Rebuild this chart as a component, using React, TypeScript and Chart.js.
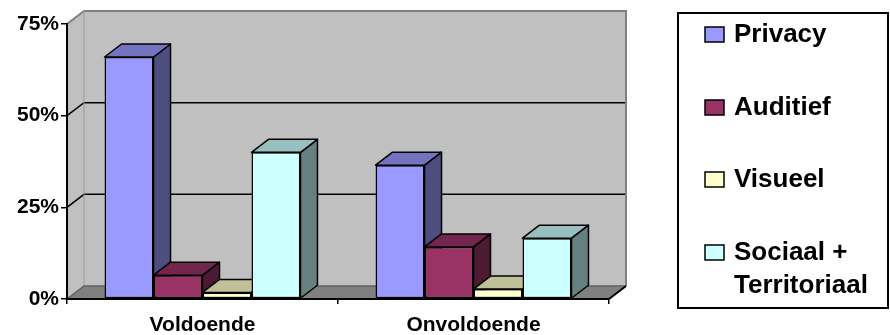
import React, { useEffect, useRef } from "react";
import { Chart, registerables } from "chart.js";

Chart.register(...registerables);

// Survey results per category
const categories = ["Voldoende", "Onvoldoende"];
const seriesNames = ["Privacy", "Auditief", "Visueel", "Sociaal + Territoriaal"];
const privacy = [66, 36.5];
const auditief = [6.5, 14.2];
const visueel = [1.8, 2.7];
const sociaal = [40, 16.6];
const yTicks = [0, 25, 50, 75];
const legendLines = [["Privacy"], ["Auditief"], ["Visueel"], ["Sociaal +", "Territoriaal"]];

// Face colours: front, top, side
const frontColors = ["#9999FF", "#993366", "#FFFFCC", "#CCFFFF"];
const topColors = ["#7373BF", "#73264D", "#C0C099", "#99C0C0"];
const sideColors = ["#4D4D80", "#4D1A33", "#808066", "#668080"];

const FONT = "'Liberation Sans', Arial, sans-serif";
const DX = 17;
const DY = 13;

const wallsPlugin = {
  id: "walls3d",
  beforeDraw(chart: any) {
    const { ctx, chartArea: a, scales } = chart;
    const ys = scales.y;
    ctx.save();
    // left side wall
    ctx.fillStyle = "#C0C0C0";
    ctx.beginPath();
    ctx.moveTo(a.left, a.top);
    ctx.lineTo(a.left + DX, a.top - DY);
    ctx.lineTo(a.left + DX, a.bottom - DY);
    ctx.lineTo(a.left, a.bottom);
    ctx.closePath();
    ctx.fill();
    // back wall
    ctx.fillRect(a.left + DX, a.top - DY, a.right - a.left, a.bottom - a.top);
    // floor
    ctx.fillStyle = "#808080";
    ctx.beginPath();
    ctx.moveTo(a.left, a.bottom);
    ctx.lineTo(a.right, a.bottom);
    ctx.lineTo(a.right + DX, a.bottom - DY);
    ctx.lineTo(a.left + DX, a.bottom - DY);
    ctx.closePath();
    ctx.fill();

    // gridlines on the walls
    ctx.strokeStyle = "#000000";
    ctx.lineWidth = 1.5;
    for (const t of ys.ticks) {
      if (t.value <= ys.min || t.value >= ys.max) continue;
      const py = ys.getPixelForValue(t.value);
      ctx.beginPath();
      ctx.moveTo(a.left, py);
      ctx.lineTo(a.left + DX, py - DY);
      ctx.lineTo(a.right + DX, py - DY);
      ctx.stroke();
    }

    // wall outlines
    ctx.strokeStyle = "#808080";
    ctx.lineWidth = 2;
    ctx.beginPath();
    ctx.moveTo(a.left, a.top);
    ctx.lineTo(a.left + DX, a.top - DY);
    ctx.lineTo(a.right + DX, a.top - DY);
    ctx.lineTo(a.right + DX, a.bottom - DY);
    ctx.stroke();
    ctx.lineWidth = 1;
    ctx.strokeStyle = "#9A9A9A";
    ctx.beginPath();
    ctx.moveTo(a.left + DX, a.top - DY);
    ctx.lineTo(a.left + DX, a.bottom - DY);
    ctx.stroke();
    ctx.strokeStyle = "#606060";
    ctx.lineWidth = 1.5;
    ctx.beginPath();
    ctx.moveTo(a.left, a.bottom);
    ctx.lineTo(a.left + DX, a.bottom - DY);
    ctx.lineTo(a.right + DX, a.bottom - DY);
    ctx.stroke();
    ctx.strokeStyle = "#000000";
    ctx.lineWidth = 2;
    ctx.beginPath();
    ctx.moveTo(a.right, a.bottom);
    ctx.lineTo(a.right + DX, a.bottom - DY);
    ctx.stroke();
    ctx.restore();
  },
  beforeDatasetsDraw(chart: any) {
    const { ctx } = chart;
    const bars: any[] = [];
    chart.data.datasets.forEach((ds: any, di: number) => {
      const meta = chart.getDatasetMeta(di);
      meta.data.forEach((el: any) => {
        const p = el.getProps(["x", "y", "base", "width"], true);
        bars.push({ ...p, di });
      });
    });
    bars.sort((m, n) => m.x - n.x);
    ctx.save();
    ctx.strokeStyle = "#000000";
    ctx.lineWidth = 1.5;
    ctx.lineJoin = "round";
    for (const b of bars) {
      const left = b.x - b.width / 2;
      const right = b.x + b.width / 2;
      // side face
      ctx.fillStyle = sideColors[b.di];
      ctx.beginPath();
      ctx.moveTo(right, b.y);
      ctx.lineTo(right + DX, b.y - DY);
      ctx.lineTo(right + DX, b.base - DY);
      ctx.lineTo(right, b.base);
      ctx.closePath();
      ctx.fill();
      ctx.stroke();
      // top face
      ctx.fillStyle = topColors[b.di];
      ctx.beginPath();
      ctx.moveTo(left, b.y);
      ctx.lineTo(left + DX, b.y - DY);
      ctx.lineTo(right + DX, b.y - DY);
      ctx.lineTo(right, b.y);
      ctx.closePath();
      ctx.fill();
      ctx.stroke();
    }
    ctx.restore();
  },
};

const legendPlugin = {
  id: "boxLegend",
  afterDraw(chart: any) {
    const { ctx } = chart;
    ctx.save();
    ctx.strokeStyle = "#000000";
    ctx.lineWidth = 2;
    ctx.strokeRect(678, 13, 210, 295);
    ctx.font = `bold 26px ${FONT}`;
    ctx.textBaseline = "alphabetic";
    ctx.textAlign = "left";
    const baselines = [42, 115, 187, 260];
    chart.data.datasets.forEach((ds: any, i: number) => {
      const by = baselines[i];
      ctx.fillStyle = ds.backgroundColor;
      ctx.fillRect(705, by - 15, 19, 15);
      ctx.lineWidth = 1.5;
      ctx.strokeRect(705, by - 15, 19, 15);
      ctx.fillStyle = "#000000";
      legendLines[i].forEach((line, li) => {
        ctx.fillText(line, 734, by + li * 33);
      });
    });
    ctx.restore();
  },
};

export default function App() {
  const ref = useRef<HTMLCanvasElement | null>(null);

  useEffect(() => {
    if (!ref.current) return;
    const series = [privacy, auditief, visueel, sociaal];
    const chart = new Chart(ref.current, {
      type: "bar",
      data: {
        labels: categories,
        datasets: series.map((values, i) => ({
          label: seriesNames[i],
          data: values,
          backgroundColor: frontColors[i],
          borderColor: "#000000",
          borderWidth: 1.5,
          borderSkipped: false,
          barPercentage: 1,
          categoryPercentage: 0.723,
        })),
      },
      options: {
        responsive: false,
        animation: false,
        layout: { padding: { top: 24, right: 281, left: 0, bottom: 0 } },
        plugins: {
          legend: { display: false },
          tooltip: { enabled: false },
        },
        scales: {
          x: {
            offset: true,
            grid: {
              offset: true,
              drawOnChartArea: false,
              drawTicks: true,
              tickLength: 5,
              color: "#000000",
              lineWidth: 1.5,
            },
            border: { color: "#000000", width: 2 },
            ticks: {
              color: "#000000",
              padding: 9,
              font: { family: FONT, size: 21, weight: "bold" },
            },
            afterFit(scale: any) {
              scale.height = 36;
            },
          },
          y: {
            min: 0,
            max: 75,
            afterBuildTicks(scale: any) {
              scale.ticks = yTicks.map((v) => ({ value: v }));
            },
            grid: {
              drawOnChartArea: false,
              drawTicks: true,
              tickLength: 6,
              color: "#000000",
              lineWidth: 1.5,
            },
            border: { color: "#000000", width: 2 },
            ticks: {
              color: "#000000",
              padding: 2,
              font: { family: FONT, size: 21, weight: "bold" },
              callback: (v: any) => `${v}%`,
            },
            afterFit(scale: any) {
              scale.width = 67;
            },
          },
        },
      },
      plugins: [wallsPlugin, legendPlugin],
    });
    return () => chart.destroy();
  }, []);

  return (
    <div style={{ position: "fixed", left: 0, top: 0, width: 890, height: 335, background: "#FFFFFF" }}>
      <canvas ref={ref} width={890} height={335} />
    </div>
  );
}
